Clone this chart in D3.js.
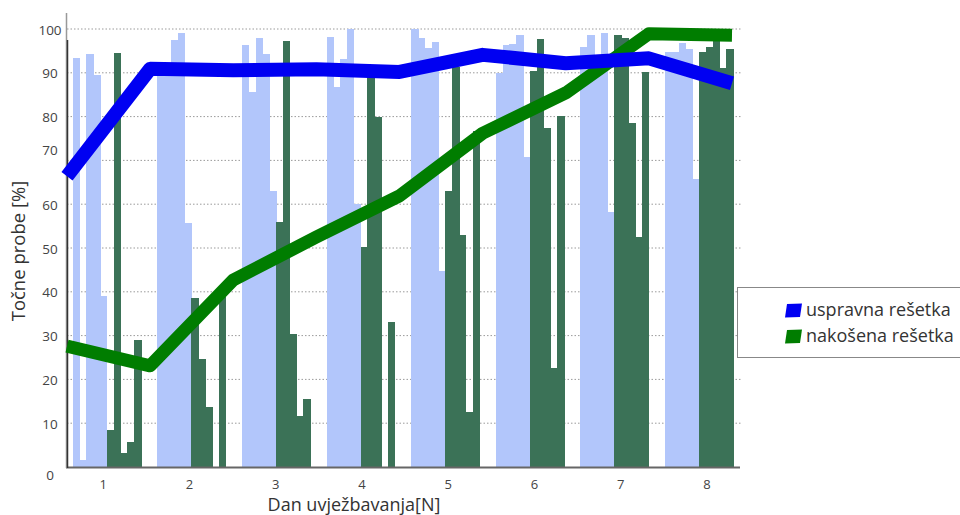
<!DOCTYPE html>
<html><head><meta charset="utf-8">
<script src="https://cdn.jsdelivr.net/npm/d3@7"></script>
<style>body{margin:0;background:#fff}svg{display:block}</style>
</head><body>
<svg id="c" width="960" height="515"></svg>
<script>
// ---- data ----
const days = [1, 2, 3, 4, 5, 6, 7, 8];
const yTicks = [0, 10, 20, 30, 40, 50, 60, 70, 80, 90, 100];
// individual subjects, upright grating (5 per day)
const uspravnaSubjects = [
  [93.3, 1.6, 94.2, 89.5, 39.0],
  [90.0, 91.0, 97.5, 99.2, 55.6],
  [96.3, 85.7, 97.9, 94.3, 62.9],
  [98.2, 86.8, 93.1, 100, 60.0],
  [100, 97.9, 95.6, 97.0, 44.8],
  [89.9, 96.3, 96.5, 98.6, 70.8],
  [96.0, 98.6, 92.0, 99.0, 58.3],
  [94.7, 94.7, 96.7, 95.4, 65.7]
];
// individual subjects, oblique grating (5 per day)
const nakosenaSubjects = [
  [8.4, 94.6, 3.1, 5.8, 29.0],
  [38.5, 24.6, 13.8, 0, 38.7],
  [56.0, 97.3, 30.4, 11.7, 15.5],
  [50.3, 90.6, 80.0, 0, 33.2],
  [63.1, 91.4, 53.0, 12.6, 76.7],
  [90.3, 97.7, 77.5, 22.5, 80.1],
  [98.6, 98.0, 78.5, 52.6, 90.1],
  [94.7, 96.0, 97.4, 91.0, 95.4]
];
const lineSteps = [0, 1, 2, 3, 4, 5, 6, 7, 8];
const meanUspravna = [66.4, 90.9, 90.6, 90.8, 90.2, 94.1, 92.2, 93.3, 87.6];
const meanNakosena = [27.6, 23.1, 42.7, 52.5, 61.9, 76.2, 85.4, 98.9, 98.6];
const seriesNames = ["uspravna rešetka", "nakošena rešetka"];
const xTitle = "Dan uvježbavanja[N]";
const yTitle = "Točne probe [%]";

// ---- drawing ----
const svg = d3.select("#c");
const FONT = "'Open Sans', sans-serif";
const y = d3.scaleLinear().domain([0, 100]).range([467, 29]);
const xLabel = d3.scaleBand().domain(days).range([60, 750]);
const xGroup = d3.scaleBand().domain(days).range([72.7, 749.5]);
const slot = d3.scaleBand().domain(d3.range(10)).range([0, 68.3]);
const xLine = d3.scalePoint().domain(lineSteps).range([67, 732]);

// grid
svg.append("g").selectAll("line").data(yTicks.filter(v => v > 0)).join("line")
  .attr("x1", 67).attr("x2", 742)
  .attr("y1", d => y(d)).attr("y2", d => y(d))
  .attr("stroke", "#9a9a9a").attr("stroke-width", 1).attr("stroke-dasharray", "1.5,2");

// bars
const barData = [];
days.forEach((d, i) => {
  uspravnaSubjects[i].forEach((v, j) => barData.push({day: d, k: j, v, c: "#b2c6fb"}));
  nakosenaSubjects[i].forEach((v, j) => barData.push({day: d, k: j + 5, v, c: "#3b7257"}));
});
svg.append("g").attr("shape-rendering", "crispEdges").selectAll("rect").data(barData).join("rect")
  .attr("x", d => xGroup(d.day) + slot(d.k))
  .attr("width", slot.bandwidth() + 0.6)
  .attr("y", d => y(d.v))
  .attr("height", d => y(0) - y(d.v))
  .attr("fill", d => d.c);

// axes
const yAxis = d3.axisLeft(y).tickValues(yTicks).tickSize(0).tickPadding(0);
const gy = svg.append("g").attr("transform", "translate(66,0)").call(yAxis);
gy.select(".domain").remove();
const nudge = {0: 7, 70: -11};
gy.selectAll(".tick text").attr("x", -16).attr("text-anchor", "middle")
  .attr("dy", d => (nudge[d] || 0) + 5)
  .attr("font-family", FONT).attr("font-size", 13.5).attr("fill", "#444");

const xAxis = d3.axisBottom(xLabel).tickSize(0).tickPadding(0);
const gx = svg.append("g").attr("transform", "translate(0,467)").call(xAxis);
gx.select(".domain").remove();
gx.selectAll(".tick text").attr("y", 22).attr("dy", 0)
  .attr("font-family", FONT).attr("font-size", 13).attr("fill", "#444");

svg.append("line").attr("x1", 66).attr("x2", 740).attr("y1", 467.5).attr("y2", 467.5)
  .attr("stroke", "#666").attr("stroke-width", 2);
svg.append("line").attr("x1", 66.5).attr("x2", 66.5).attr("y1", 13).attr("y2", 468)
  .attr("stroke", "#999").attr("stroke-width", 1.5);
svg.append("line").attr("x1", 67.5).attr("x2", 67.5).attr("y1", 40).attr("y2", 468)
  .attr("stroke", "#333").attr("stroke-width", 1.5);

// mean lines
const line = d3.line().x((d, i) => xLine(lineSteps[i])).y(d => y(d));
svg.append("path").datum(meanNakosena).attr("d", line)
  .attr("fill", "none").attr("stroke", "#007d00").attr("stroke-width", 13).attr("stroke-linejoin", "round");
svg.append("path").datum(meanUspravna).attr("d", line)
  .attr("fill", "none").attr("stroke", "#0000f2").attr("stroke-width", 14).attr("stroke-linejoin", "round");

// titles
svg.append("text").text(xTitle).attr("x", 354).attr("y", 511).attr("text-anchor", "middle")
  .attr("font-family", FONT).attr("font-size", 18).attr("fill", "#333");
svg.append("text").text(yTitle).attr("transform", "translate(25,251) rotate(-90)")
  .attr("text-anchor", "middle")
  .attr("font-family", FONT).attr("font-size", 18.5).attr("fill", "#333");

// legend
const lg = svg.append("g");
lg.append("rect").attr("x", 737.5).attr("y", 287.5).attr("width", 240).attr("height", 70)
  .attr("fill", "#fff").attr("stroke", "#888").attr("stroke-width", 1);
const legColors = ["#0000f2", "#007d00"];
seriesNames.forEach((n, i) => {
  const yy = 304 + i * 26;
  lg.append("path").attr("d", `M787,${yy} L802,${yy - 0.5} L800,${yy + 13} L785,${yy + 13.5} Z`)
    .attr("fill", legColors[i]);
  lg.append("text").text(n).attr("x", 806).attr("y", yy + 12)
    .attr("font-family", FONT).attr("font-size", 18).attr("fill", "#333");
});
</script>
</body></html>
